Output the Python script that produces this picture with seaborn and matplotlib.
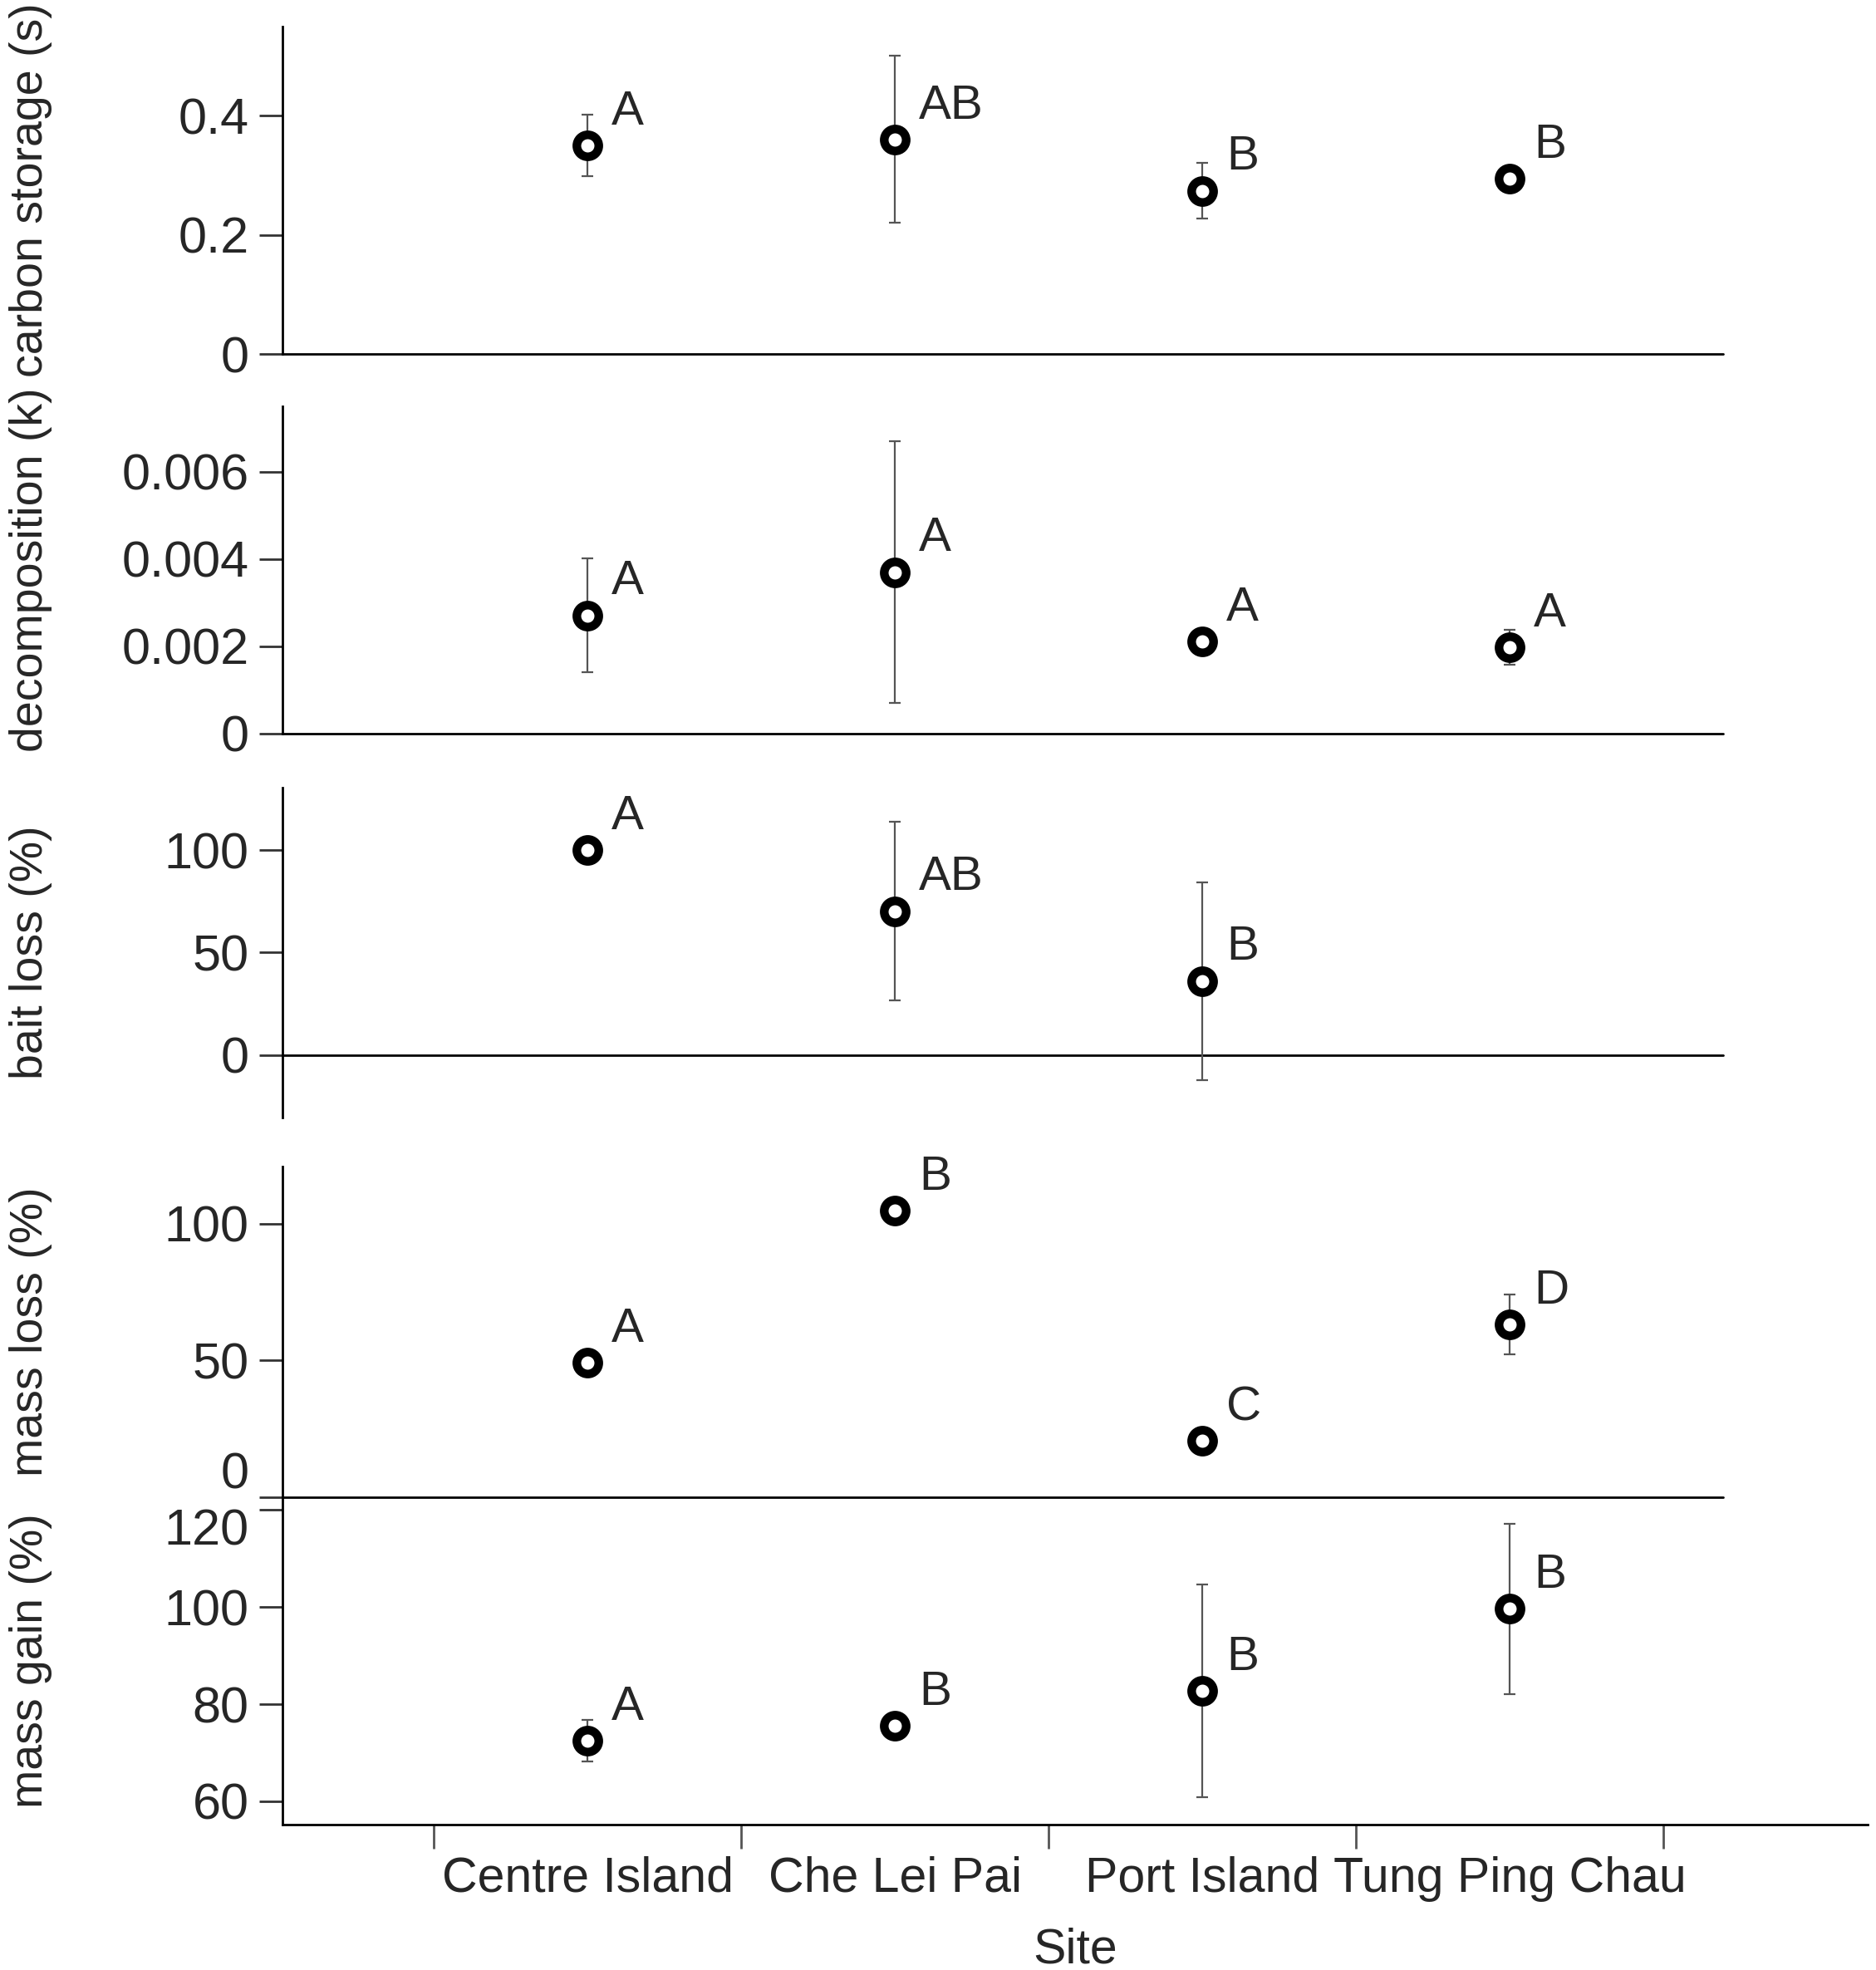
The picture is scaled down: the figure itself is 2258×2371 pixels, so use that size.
import numpy as np
import pandas as pd
import seaborn as sns
import matplotlib.pyplot as plt
from matplotlib.transforms import ScaledTranslation

sites = ["Centre Island", "Che Lei Pai", "Port Island", "Tung Ping Chau"]

carbon_mean = [0.350, 0.360, 0.274, 0.294]
carbon_err = [0.052, 0.140, 0.047, 0.012]
carbon_letters = ["A", "AB", "B", "B"]

decomp_mean = [0.00271, 0.00370, 0.00211, 0.00198]
decomp_err = [0.00131, 0.00299, 0.00010, 0.00040]
decomp_letters = ["A", "A", "A", "A"]

bait_mean = [100.0, 70.2, 36.2, np.nan]
bait_err = [0.0, 43.5, 48.2, np.nan]
bait_letters = ["A", "AB", "B", ""]

massloss_mean = [49.1, 104.6, 20.5, 63.2]
massloss_err = [0.5, 0.5, 0.5, 11.0]
massloss_letters = ["A", "B", "C", "D"]

massgain_mean = [72.5, 75.5, 82.7, 99.6]
massgain_err = [4.3, 1.0, 21.9, 17.6]
massgain_letters = ["A", "B", "B", "B"]

panels = [
    ("carbon storage (s)", carbon_mean, carbon_err, carbon_letters,
     (0, 0.55), [0, 0.2, 0.4], ["0", "0.2", "0.4"]),
    ("decomposition (k)", decomp_mean, decomp_err, decomp_letters,
     (0, 0.0075), [0, 0.002, 0.004, 0.006], ["0", "0.002", "0.004", "0.006"]),
    ("bait loss (%)", bait_mean, bait_err, bait_letters,
     (-30.4, 130.4), [0, 50, 100], ["0", "50", "100"]),
    ("mass loss (%)", massloss_mean, massloss_err, massloss_letters,
     (0, 120.8), [0, 50, 100], ["0", "50", "100"]),
    ("mass gain (%)", massgain_mean, massgain_err, massgain_letters,
     (55.2, 122.6), [60, 80, 100, 120], ["60", "80", "100", "120"]),
]

# axes boxes in figure fractions [left, bottom, width, height]
boxes = [
    [0.1506, 0.8203, 0.8450, 0.1664],
    [0.1506, 0.6276, 0.8450, 0.1662],
    [0.1506, 0.4327, 0.8450, 0.1675],
    [0.1506, 0.2400, 0.8450, 0.1678],
    [0.1506, 0.0738, 0.8450, 0.1662],
]

sns.set_style("white")
plt.rcParams["font.family"] = ["Liberation Sans", "DejaVu Sans"]

fig = plt.figure(figsize=(22.58, 23.71), dpi=100)

FS = 40
TICK_FS = 44
for i, (ylab, mean, err, letters, ylim, yt, ytl) in enumerate(panels):
    ax = fig.add_axes(boxes[i])
    ax.set_facecolor("none")
    df = pd.DataFrame({"site": sites, "x": np.arange(4), "mean": mean, "err": err})

    ax.errorbar(df["x"], df["mean"], yerr=df["err"], fmt="none", ecolor="#555555",
                elinewidth=1.6, capsize=5, capthick=1.6, zorder=2)
    sns.scatterplot(data=df, x="x", y="mean", ax=ax, s=19 ** 2, color="white",
                    edgecolor="black", linewidth=7.5, zorder=3, legend=False)

    for xi, m, lt in zip(df["x"], df["mean"], letters):
        if lt and np.isfinite(m):
            ax.annotate(lt, (xi, m), xytext=(21, 29), textcoords="offset points",
                        ha="left", va="center", fontsize=42)

    ax.set_xlim(-0.992, 4.165)
    ax.set_ylim(*ylim)
    ax.set_yticks(yt)
    ax.set_yticklabels(ytl)
    ax.tick_params(axis="y", direction="out", length=20, width=2, color="#333333",
                   labelsize=TICK_FS, pad=9, left=True)
    for s in ["top", "right"]:
        ax.spines[s].set_visible(False)
    ax.spines["left"].set_linewidth(2)
    ax.spines["left"].set_color("black")

    ax.set_ylabel(ylab, fontsize=FS)
    ax.yaxis.set_label_coords(-0.145, 0.5)

    if i < 4:
        ax.spines["bottom"].set_visible(False)
        ax.set_xticks([])
        ax.set_xlabel("")
        ax.axhline(0, xmin=0, xmax=0.909, color="black", lw=2, zorder=1, clip_on=False)
    else:
        ax.spines["bottom"].set_linewidth(2)
        ax.spines["bottom"].set_color("black")
        ax.set_xticks([-0.5, 0.5, 1.5, 2.5, 3.5])
        ax.set_xticklabels([])
        ax.set_xticks(np.arange(4), minor=True)
        ax.set_xticklabels(sites, minor=True)
        ax.tick_params(axis="x", which="major", direction="out", length=21, width=2,
                       color="#555555", bottom=True)
        ax.tick_params(axis="x", which="minor", length=0, labelsize=42.5, pad=27, bottom=True)
        ax.set_xlabel("Site", fontsize=42.5, labelpad=22)

    # nudge crowded end labels where mass loss meets mass gain
    if i == 3:
        lab = ax.get_yticklabels()[0]
        lab.set_transform(lab.get_transform() + ScaledTranslation(0, 0.32, fig.dpi_scale_trans))
    if i == 4:
        lab = ax.get_yticklabels()[-1]
        lab.set_transform(lab.get_transform() + ScaledTranslation(0, -0.20, fig.dpi_scale_trans))

fig.savefig("out.png", dpi=100)
